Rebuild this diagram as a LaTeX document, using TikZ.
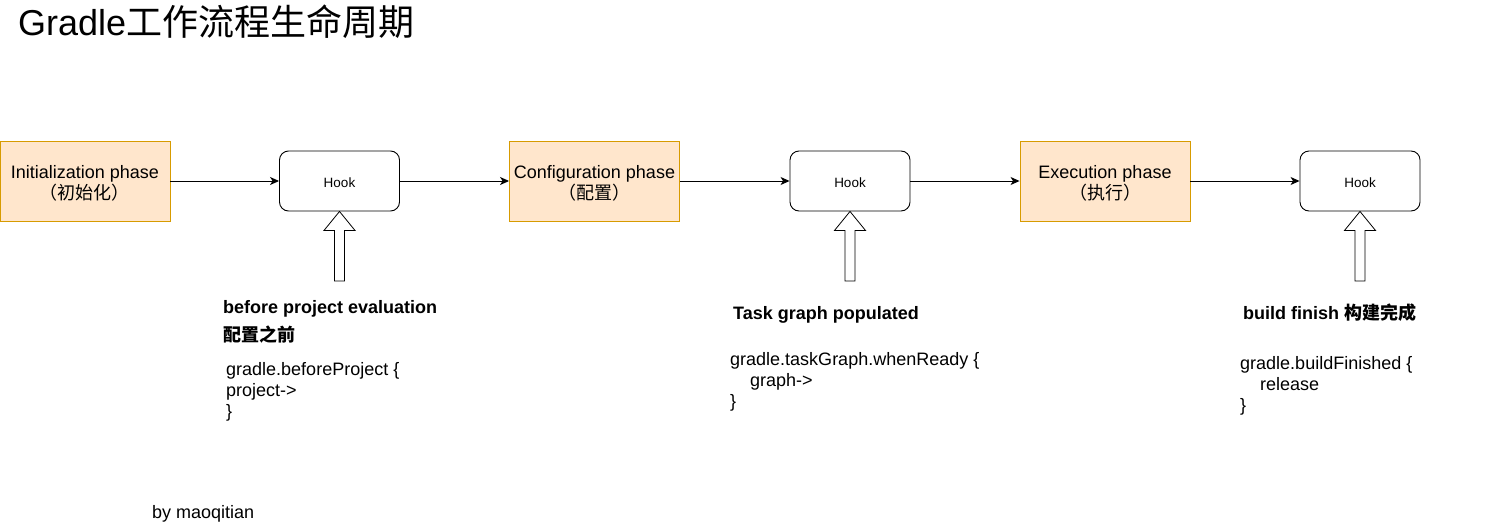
\documentclass[tikz,border=0pt]{standalone}
\usepackage{fontspec}
\setmainfont{Liberation Sans}
\newfontfamily\cjk{Noto Sans CJK SC}
\usetikzlibrary{arrows.meta}
\definecolor{phasefill}{HTML}{FFE6CC}
\definecolor{phasedraw}{HTML}{D79B00}
\begin{document}
\begin{tikzpicture}[x=1pt,y=-1pt,
  phase/.style={draw=phasedraw,fill=phasefill,line width=0.9pt,minimum width=170pt,minimum height=80pt,inner sep=0pt,align=center,font=\fontsize{18}{21}\selectfont},
  hook/.style={draw=black,line width=0.9pt,rounded corners=9pt,minimum width=120pt,minimum height=60pt,inner sep=0pt,font=\fontsize{13.5}{16}\selectfont},
  phasetext/.style={inner sep=0pt,align=center,font=\fontsize{18}{21}\selectfont},
  hooktext/.style={inner sep=0pt,font=\fontsize{13.5}{16}\selectfont},
  edge/.style={draw=black,line width=0.9pt,-{Stealth[length=9pt,width=8pt,inset=2.5pt]}},
  blockarrow/.style={draw=black,line width=0.8pt,fill=white,line join=miter},
  lbl/.style={anchor=base west,inner sep=0pt,font=\fontsize{18}{21}\selectfont\bfseries},
  code/.style={anchor=base west,inner sep=0pt,font=\fontsize{18}{21}\selectfont}
]
\useasboundingbox (0,0) rectangle (1491,522);

\node[anchor=base west,inner sep=0pt,font=\fontsize{36}{40}\selectfont] (title) at (18,35) {Gradle{\cjk 工作流程生命周期}};

\node[phase] (init) at (85,181) {};
\node[phasetext] (initt) at (85,183) {Initialization phase\\{\cjk （初始化）}};
\node[hook] (hook1) at (339.5,181) {};
\node[hooktext] (hook1t) at (339.5,182.5) {Hook};
\node[phase] (conf) at (594.5,181) {};
\node[phasetext] (conft) at (594.5,183) {Configuration phase\\{\cjk （配置）}};
\node[hook] (hook2) at (850,181) {};
\node[hooktext] (hook2t) at (850,182.5) {Hook};
\node[phase] (exec) at (1105,181) {};
\node[phasetext] (exect) at (1105,183) {Execution phase\\{\cjk （执行）}};
\node[hook] (hook3) at (1360,181) {};
\node[hooktext] (hook3t) at (1360,182.5) {Hook};

\draw[edge] (init) -- (hook1);
\draw[edge] (hook1) -- (conf);
\draw[edge] (conf) -- (hook2);
\draw[edge] (hook2) -- (exec);
\draw[edge] (exec) -- (hook3);

\foreach \h in {hook1,hook2,hook3}{
  \draw[blockarrow] (\h.south) -- ++(15.5,19) -- ++(-10.5,0) -- ++(0,50.5) -- ++(-10,0) -- ++(0,-50.5) -- ++(-10.5,0) -- cycle;
}

\node[lbl] (l1a) at (223,313) {before project evaluation};
\node[lbl] (l1b) at (223,341) {\cjk 配置之前};
\node[code] (c1a) at (226,375) {gradle.beforeProject \{};
\node[code] (c1b) at (226,396) {project->};
\node[code] (c1c) at (226,417) {\}};

\node[lbl] (l2a) at (733,319) {Task graph populated};
\node[code] (c2a) at (730,365) {gradle.taskGraph.whenReady \{};
\node[code] (c2b) at (750,386) {graph->};
\node[code] (c2c) at (730,407) {\}};

\node[lbl] (l3a) at (1243,319) {build finish {\cjk 构建完成}};
\node[code] (c3a) at (1240,369) {gradle.buildFinished \{};
\node[code] (c3b) at (1260,390) {release};
\node[code] (c3c) at (1240,411) {\}};

\node[code] (by) at (152,518) {by maoqitian};
\end{tikzpicture}
\end{document}
